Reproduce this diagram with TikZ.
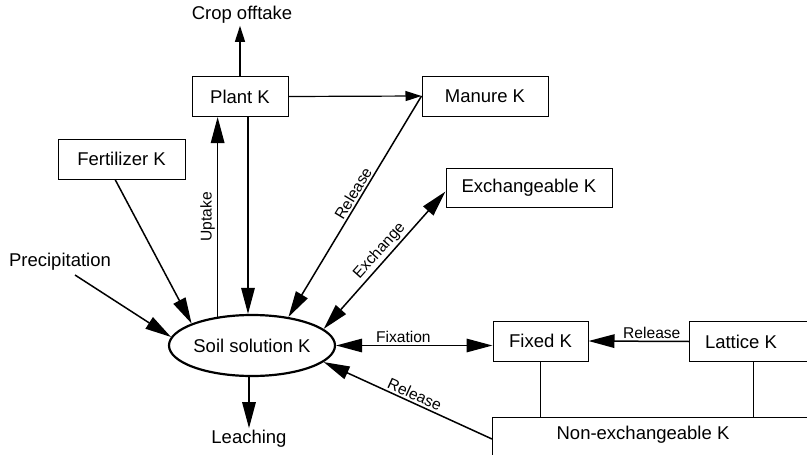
\documentclass[tikz,border=0pt]{standalone}
\usepackage{fontspec}
\setmainfont{Liberation Sans}
\usetikzlibrary{arrows.meta,calc,shapes.geometric}
\begin{document}
\begin{tikzpicture}[x=1pt,y=-1pt,
  box/.style={draw, line width=1pt, inner sep=0pt, font=\fontsize{18.5}{22}\selectfont},
  txt/.style={inner sep=2pt, font=\fontsize{18.5}{22}\selectfont},
  lbl/.style={inner sep=2pt, font=\fontsize{15.6}{18}\selectfont},
  big/.style={line width=1.5pt, -{Triangle[length=26pt,width=13.5pt]}},
  small/.style={line width=1.2pt, -{Triangle[length=16pt,width=10pt]}},
  dbl/.style={line width=1.5pt, {Triangle[length=26pt,width=13.5pt]}-{Triangle[length=26pt,width=13.5pt]}},
  plain/.style={line width=1pt}]
\useasboundingbox (0,0) rectangle (807,455);
\clip (0,0) rectangle (807,455);

% nodes
\node[box, minimum width=96pt, minimum height=40pt] (plant) at (240,96.5) {Plant K};
\node[box, minimum width=126pt, minimum height=40pt] (manure) at (485,96) {Manure K\hspace{14pt}};
\node[box, minimum width=127pt, minimum height=40pt] (fert) at (121.5,159) {Fertilizer K\hspace{6pt}};
\node[box, minimum width=166pt, minimum height=39pt] (exch) at (529,187.5) {Exchangeable K\hspace{16pt}};
\node[ellipse, draw, line width=2.2pt, minimum width=166pt, minimum height=61pt, inner sep=0pt,
      font=\fontsize{18.5}{22}\selectfont] (soil) at (252,345.5) {Soil solution K\hspace{14pt}};
\node[box, minimum width=95pt, minimum height=40pt] (fixed) at (540.5,341) {Fixed K};
\node[box, minimum width=140pt, minimum height=40pt, anchor=west] (lattice) at (689,341.5) {};
\node[txt] (lattxt) at (741,342) {Lattice K};
\node[box, minimum width=338pt, minimum height=43pt, anchor=north west] (nonex) at (492,417) {};
\node[txt] (nonextxt) at (643,435) {Non-exchangeable K};
\node[txt] (crop) at (242,15) {Crop offtake};
\node[txt] (precip) at (60,262) {Precipitation};
\node[txt] (leach) at (249,439) {Leaching};
\coordinate (pstart) at (75,275);

% connectors
\draw[small] (plant.north) -- (plant.north |- crop.south);
\draw[small] (plant.east) -- (manure.west);
\draw[big] (soil.140) -- (soil.140 |- plant.south) node[lbl, midway, above, sloped] {Uptake};
\draw[big] ($(plant.south)+(8,0)$) coordinate (ps) -- (ps |- soil.north);
\draw[big] ($(fert.south west)!0.45!(fert.south east)$) -- (soil.160);
\draw[big] (pstart) -- (soil.174);
\draw[big] (manure.west) -- (soil.38) node[lbl, pos=0.46, above, sloped] {Release};
\draw[dbl] (soil.13) -- ($(exch.west)+(0,4)$) node[lbl, pos=0.52, above, sloped] {Exchange};
\draw[dbl] (soil.east) -- (soil.east -| fixed.west) node[lbl, pos=0.43, above] {Fixation};
\draw[big] (lattice.west) -- (fixed.east) node[lbl, pos=0.37, above] {Release};
\draw[big] (nonex.west) -- (soil.-13) node[lbl, pos=0.48, above, sloped] {Release};
\draw[big] (leach.north |- soil.south) -- (leach.north);
\draw[plain] (fixed.south) -- (fixed.south |- nonex.north);
\draw[plain] ($(lattice.south west)+(64,0)$) coordinate (ls) -- (ls |- nonex.north);
\end{tikzpicture}
\end{document}
